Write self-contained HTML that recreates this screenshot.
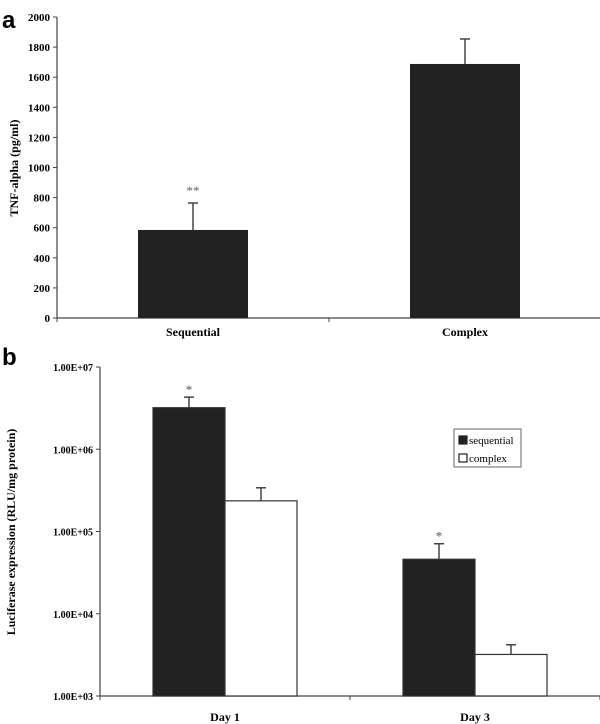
<!DOCTYPE html>
<html><head><meta charset="utf-8"><style>
html,body{margin:0;padding:0;background:#fff;}
svg{display:block;font-family:"Liberation Serif",serif;}
</style></head><body>
<svg id="chart" width="600" height="724" viewBox="0 0 600 724" xmlns="http://www.w3.org/2000/svg">
<text x="2" y="28" font-family="Liberation Sans,sans-serif" font-weight="bold" font-size="24">a</text>
<text x="2" y="365" font-family="Liberation Sans,sans-serif" font-weight="bold" font-size="24">b</text>
<g id="pa"></g>
<g id="pb"></g>
</svg>
<script>
const aCategories = ["Sequential", "Complex"];
const aValues = [585, 1688];
const aErrors = [764, 1854];
const aStars = ["**", ""];
const aTicks = [0,200,400,600,800,1000,1200,1400,1600,1800,2000];

const bCategories = ["Day 1", "Day 3"];
const bSeries = ["sequential", "complex"];
const bSequential = [3.2e6, 4.6e4];
const bComplex = [2.36e5, 3.2e3];
const bSeqErr = [4.3e6, 7.1e4];
const bCompErr = [3.4e5, 4.2e3];
const bStars = ["*", "*"];
const bTicks = [1e3, 1e4, 1e5, 1e6, 1e7];
const bTickLabels = ["1.00E+03","1.00E+04","1.00E+05","1.00E+06","1.00E+07"];

const NS = "http://www.w3.org/2000/svg";
function mk(parent, tag, attrs, text){
  const e = document.createElementNS(NS, tag);
  for (const k in attrs) e.setAttribute(k, attrs[k]);
  if (text !== undefined) e.textContent = text;
  parent.appendChild(e);
  return e;
}
const stroke = "#444";

// Panel A
const pa = document.getElementById("pa");
const aX0 = 57, aX1 = 601, aY0 = 318, aY1 = 17;
const ay = v => aY0 - (v / 2000) * (aY0 - aY1);
const aBand = (aX1 - aX0) / aCategories.length;
const acx = i => aX0 + aBand * (i + 0.5);
let el;
el = mk(pa, "line", {x1:aX0, y1:aY1, x2:aX0, y2:aY0, stroke:stroke, "stroke-width":1.2});


el = mk(pa, "line", {x1:aX0, y1:aY0, x2:aX1, y2:aY0, stroke:stroke, "stroke-width":1.2});


aTicks.forEach(t => {
  mk(pa, "line", {x1:aX0-4, y1:ay(t), x2:aX0, y2:ay(t), stroke:stroke});
  el = mk(pa, "text", {x:aX0-7, y:ay(t)+4, "text-anchor":"end", "font-size":11, "font-weight":"bold"}, String(t));
  
  
});
for (let i = 0; i <= aCategories.length; i++) {
  mk(pa, "line", {x1:aX0+aBand*i, y1:aY0, x2:aX0+aBand*i, y2:aY0+4, stroke:stroke});
}
aCategories.forEach((c, i) => {
  const cx = acx(i), w = 110;
  el = mk(pa, "rect", {x:cx-w/2, y:ay(aValues[i]), width:w, height:aY0-ay(aValues[i]), fill:"#222"});
  
  
  el = mk(pa, "line", {x1:cx, y1:ay(aValues[i]), x2:cx, y2:ay(aErrors[i]), stroke:stroke, "stroke-width":1.5});
  
  
  mk(pa, "line", {x1:cx-5, y1:ay(aErrors[i]), x2:cx+5, y2:ay(aErrors[i]), stroke:stroke, "stroke-width":1.5});
  if (aStars[i]) {
    el = mk(pa, "text", {x:cx, y:ay(aErrors[i])-8, "text-anchor":"middle", "font-size":13, fill:"#666"}, aStars[i]);
    
    
  }
  el = mk(pa, "text", {x:cx, y:336, "text-anchor":"middle", "font-size":12, "font-weight":"bold"}, c);
  
  
});
el = mk(pa, "text", {x:0, y:0, transform:"translate(18,168) rotate(-90)", "text-anchor":"middle", "font-size":12, "font-weight":"bold"}, "TNF-alpha (pg/ml)");



// Panel B
const pb = document.getElementById("pb");
const bX0 = 100, bX1 = 600, bY0 = 696, bY1 = 367;
const by = v => bY0 - (Math.log10(v) - 3) / 4 * (bY0 - bY1);
const bBand = (bX1 - bX0) / bCategories.length;
const bcx = i => bX0 + bBand * (i + 0.5);
el = mk(pb, "line", {x1:bX0, y1:bY1, x2:bX0, y2:bY0, stroke:stroke, "stroke-width":1.2});


el = mk(pb, "line", {x1:bX0, y1:bY0, x2:bX1, y2:bY0, stroke:stroke, "stroke-width":1.2});


bTicks.forEach((t, i) => {
  mk(pb, "line", {x1:bX0-4, y1:by(t), x2:bX0, y2:by(t), stroke:stroke});
  el = mk(pb, "text", {x:bX0-7, y:by(t)+4, "text-anchor":"end", "font-size":10, "font-weight":"bold"}, bTickLabels[i]);
  
  
});
for (let i = 0; i <= bCategories.length; i++) {
  mk(pb, "line", {x1:bX0+bBand*i, y1:bY0, x2:bX0+bBand*i, y2:bY0+4, stroke:stroke});
}
bCategories.forEach((c, i) => {
  const cx = bcx(i), w = 72;
  const vals = [bSequential[i], bComplex[i]], errs = [bSeqErr[i], bCompErr[i]];
  vals.forEach((v, s) => {
    const x = s === 0 ? cx - w : cx;
    el = mk(pb, "rect", {x:x, y:by(v), width:w, height:bY0-by(v), fill:s===0?"#222":"#fff", stroke:"#333", "stroke-width":1.2});
    
    
    const ex = x + w/2;
    el = mk(pb, "line", {x1:ex, y1:by(v), x2:ex, y2:by(errs[s]), stroke:stroke, "stroke-width":1.5});
    
    
    mk(pb, "line", {x1:ex-5, y1:by(errs[s]), x2:ex+5, y2:by(errs[s]), stroke:stroke, "stroke-width":1.5});
    if (s === 0 && bStars[i]) {
      el = mk(pb, "text", {x:ex, y:by(errs[s])-3, "text-anchor":"middle", "font-size":13, fill:"#555"}, bStars[i]);
      
      
    }
  });
  el = mk(pb, "text", {x:cx, y:721, "text-anchor":"middle", "font-size":12, "font-weight":"bold"}, c);
  
  
});
el = mk(pb, "text", {x:0, y:0, transform:"translate(15,532) rotate(-90)", "text-anchor":"middle", "font-size":12, "font-weight":"bold"}, "Luciferase expression (RLU/mg protein)");



// legend
const lg = mk(pb, "g", {});


mk(lg, "rect", {x:454, y:429, width:67, height:38, fill:"#fff", stroke:"#666"});
bSeries.forEach((s, i) => {
  const yy = 443 + i * 18;
  el = mk(lg, "rect", {x:459, y:yy-7, width:8, height:8, fill:i===0?"#222":"#fff", stroke:"#222", "stroke-width":1.2});
  
  
  el = mk(lg, "text", {x:469, y:yy+1, "font-size":11}, s);
  
  
});
</script>
</body></html>
